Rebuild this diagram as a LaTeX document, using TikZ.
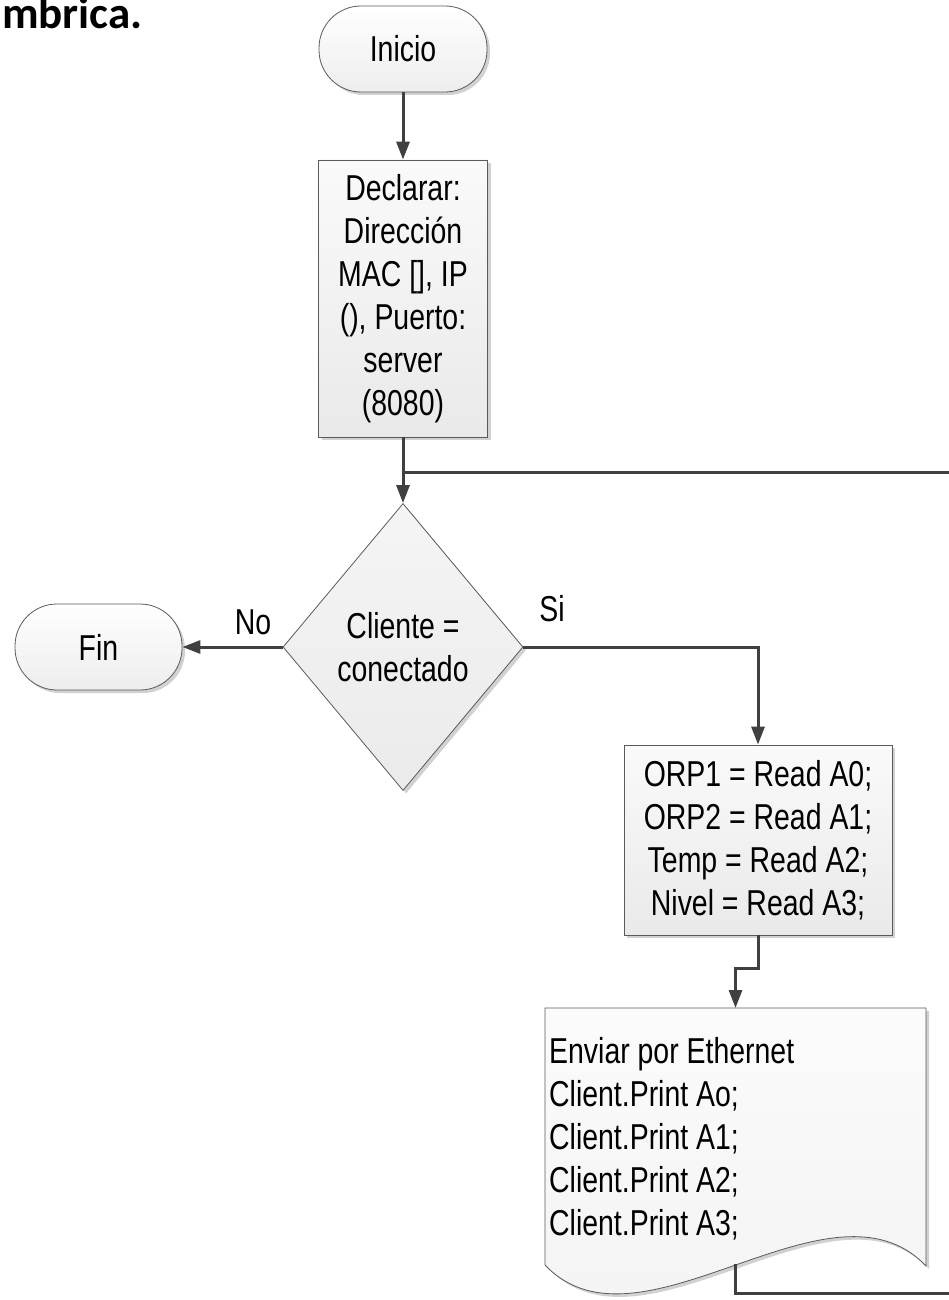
\documentclass[tikz,border=0pt]{standalone}
\usepackage{fontspec}
\setmainfont{Liberation Sans}[FakeStretch=0.79]
\newfontfamily\headfont{Carlito}
\usetikzlibrary{arrows.meta,shapes.geometric,shadows,calc}
\definecolor{connc}{HTML}{404040}
\definecolor{edgec}{HTML}{5A5A5A}
\begin{document}
\begin{tikzpicture}[x=1pt,y=-1pt,
  shp/.style={draw=edgec, line width=0.8pt, inner sep=0pt, align=center,
    font=\fontsize{36}{43}\selectfont,
    drop shadow={shadow xshift=3pt, shadow yshift=-3pt, fill=black!30, opacity=0.6}},
  term/.style={shp, rectangle, rounded corners=42pt, top color=white, bottom color=gray!14},
  proc/.style={shp, rectangle, top color=gray!4, bottom color=gray!17},
  dec/.style={shp, diamond, top color=gray!8, bottom color=gray!16},
  conn/.style={draw=connc, line width=3pt, -{Triangle[length=18pt,width=13pt]}},
  plain/.style={draw=connc, line width=3pt},
  lbl/.style={font=\fontsize{36}{43}\selectfont, inner sep=0pt}
]
\useasboundingbox (0,0) rectangle (949,1300);

\node[font=\headfont\bfseries\fontsize{45}{50}\selectfont, anchor=base west, inner sep=0pt] (head) at (2,29) {mbrica.};

\node[term, minimum width=168pt, minimum height=86pt] (inicio) at (403,49) {Inicio};
\node[proc, minimum width=169pt, minimum height=277pt] (decl) at (403,298.5)
  {Declarar:\\Dirección\\MAC [], IP\\(), Puerto:\\server\\(8080)};
\node[dec, minimum width=240pt, minimum height=287pt] (cond) at (403,647) {Cliente =\\conectado};
\node[term, minimum width=167pt, minimum height=86pt] (fin) at (98.5,647) {Fin};
\node[proc, minimum width=268pt, minimum height=190pt] (read) at (758,840)
  {ORP1 = Read A0;\\ORP2 = Read A1;\\Temp = Read A2;\\Nivel = Read A3;};

% document shape
\node[minimum width=381pt, minimum height=10pt, inner sep=0pt, anchor=north] (doc) at (735.5,1008) {};
\fill[black!30, opacity=0.6, xshift=3pt, yshift=-3pt] (545,1008) -- (926,1008) -- (926,1266)
  .. controls (830,1165) and (640,1365) .. (545,1265) -- cycle;
\path[draw=edgec, line width=0.8pt, top color=gray!3, bottom color=gray!10]
  (545,1008) -- (926,1008) -- (926,1266)
  .. controls (830,1165) and (640,1365) .. (545,1265) -- cycle;
\node[lbl, align=left, anchor=north west] (doctext) at (549,1037)
  {Enviar por Ethernet\\Client.Print Ao;\\Client.Print A1;\\Client.Print A2;\\Client.Print A3;};

% connectors
\draw[conn] (inicio.south) -- (decl.north);
\draw[conn] (decl.south) -- (cond.north);
\draw[conn] (cond.west) -- (fin.east);
\draw[conn] (cond.east) -| (read.north);
\draw[conn] (read.south) -- ++(0,33) -| (doc.north);

\coordinate (loopstart) at (735,1264);
\coordinate (loopright) at (965,1293);
\coordinate (join) at (403,472);
\draw[plain] (loopstart) |- (loopright) |- (join);

\node[lbl] (no) at (253,622) {No};
\node[lbl] (si) at (552,609) {Si};
\end{tikzpicture}
\end{document}
